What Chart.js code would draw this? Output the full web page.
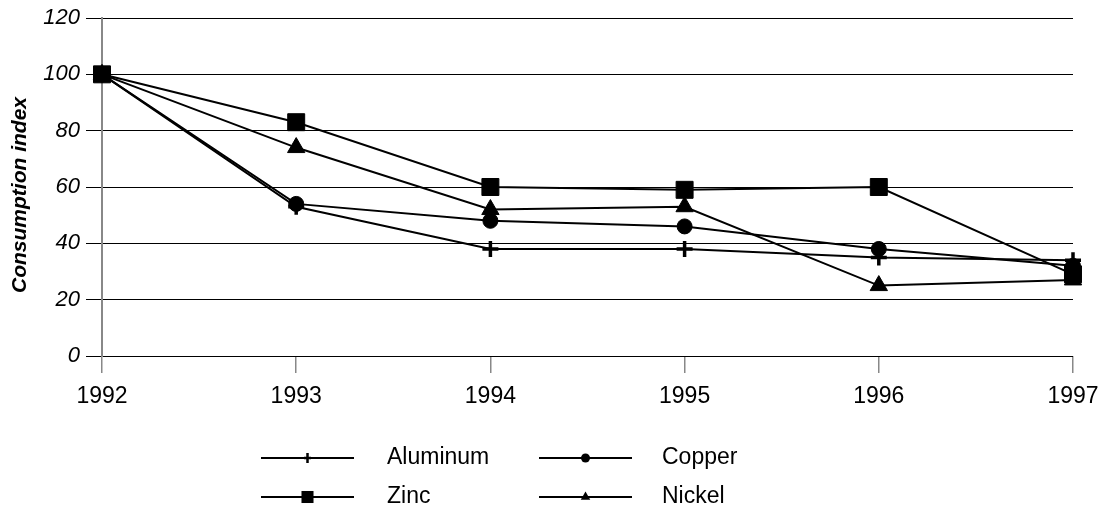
<!DOCTYPE html>
<html>
<head>
<meta charset="utf-8">
<script src="https://cdn.jsdelivr.net/npm/chart.js@4.4.1/dist/chart.umd.min.js"></script>
<style>
  html, body { margin: 0; padding: 0; background: #fff; }
  #wrap { position: relative; width: 1106px; height: 513px; }
</style>
</head>
<body>
<div id="wrap"><canvas id="c" width="1106" height="513"></canvas></div>
<script>
// Metal consumption index, 1992 = 100
const years = ['1992', '1993', '1994', '1995', '1996', '1997'];
const aluminum = [100, 53, 38, 38, 35, 34];
const copper   = [100, 54, 48, 46, 38, 32];
const zinc     = [100, 83, 60, 59, 60, 29];
const nickel   = [100, 74, 52, 53, 25, 27];
const yTicks   = [0, 20, 40, 60, 80, 100, 120];
const yTitle   = 'Consumption index';

const FONT = "'Liberation Sans', Arial, sans-serif";

// Legend entries: name, marker style, marker radius, grid cell
const legendItems = [
  { label: 'Aluminum', style: 'cross',    r: 5,   col: 0, row: 0 },
  { label: 'Copper',   style: 'circle',   r: 4.5, col: 1, row: 0 },
  { label: 'Zinc',     style: 'rect',     r: 8.5, col: 0, row: 1 },
  { label: 'Nickel',   style: 'triangle', r: 5.5, col: 1, row: 1 }
];

function drawMarker(ctx, style, x, y, r) {
  ctx.save();
  ctx.fillStyle = '#000';
  ctx.strokeStyle = '#000';
  ctx.beginPath();
  if (style === 'circle') {
    ctx.arc(x, y, r, 0, Math.PI * 2);
    ctx.fill();
  } else if (style === 'rect') {
    const s = r * Math.SQRT1_2;
    ctx.fillRect(x - s, y - s, 2 * s, 2 * s);
  } else if (style === 'triangle') {
    ctx.moveTo(x, y - r);
    ctx.lineTo(x + r * 0.866, y + r * 0.5);
    ctx.lineTo(x - r * 0.866, y + r * 0.5);
    ctx.closePath();
    ctx.fill();
  } else if (style === 'cross') {
    ctx.lineWidth = 2.5;
    ctx.moveTo(x - 3.5, y); ctx.lineTo(x + 3.5, y);
    ctx.moveTo(x, y - r); ctx.lineTo(x, y + r);
    ctx.stroke();
  }
  ctx.restore();
}

// Two-column legend with a line sample and marker, plus the rotated y title
const legendPlugin = {
  id: 'metalLegend',
  afterDraw(chart) {
    const ctx = chart.ctx;
    const colX = [261, 539];
    const lineLen = 93;
    const textX = [387, 662];
    const rowY = [458, 497];
    legendItems.forEach(it => {
      const x0 = colX[it.col];
      const y = rowY[it.row];
      ctx.save();
      ctx.strokeStyle = '#000';
      ctx.lineWidth = 2;
      ctx.beginPath();
      ctx.moveTo(x0, y);
      ctx.lineTo(x0 + lineLen, y);
      ctx.stroke();
      ctx.restore();
      drawMarker(ctx, it.style, x0 + lineLen / 2, y, it.r);
      ctx.save();
      ctx.fillStyle = '#000';
      ctx.font = '23px ' + FONT;
      ctx.textBaseline = 'middle';
      ctx.textAlign = 'left';
      ctx.fillText(it.label, textX[it.col], y);
      ctx.restore();
    });

    ctx.save();
    ctx.translate(20, 195);
    ctx.rotate(-Math.PI / 2);
    ctx.fillStyle = '#000';
    ctx.font = 'italic bold 21px ' + FONT;
    ctx.textAlign = 'center';
    ctx.textBaseline = 'middle';
    ctx.fillText(yTitle, 0, 0);
    ctx.restore();
  }
};

function series(label, data, style, radius, bw) {
  return {
    label, data,
    borderColor: '#000',
    borderWidth: 2,
    backgroundColor: '#000',
    pointStyle: style,
    pointRadius: radius,
    pointHoverRadius: radius,
    pointBackgroundColor: '#000',
    pointBorderColor: '#000',
    pointBorderWidth: bw,
    tension: 0,
    fill: false
  };
}

new Chart(document.getElementById('c'), {
  type: 'line',
  data: {
    labels: years,
    datasets: [
      series('Aluminum', aluminum, 'cross', 8, 3.5),
      series('Copper', copper, 'circle', 7.5, 1),
      series('Nickel', nickel, 'triangle', 10, 1),
      series('Zinc', zinc, 'rect', 12, 1)
    ]
  },
  options: {
    responsive: false,
    animation: false,
    events: [],
    layout: { padding: { top: 18, right: 33, left: 0, bottom: 0 } },
    plugins: {
      legend: { display: false },
      tooltip: { enabled: false }
    },
    scales: {
      x: {
        type: 'category',
        offset: false,
        afterFit(scale) {
          scale.height = 157;
          scale.paddingLeft = 0;
          scale.paddingRight = 0;
        },
        grid: {
          display: true,
          drawOnChartArea: false,
          drawTicks: true,
          tickLength: 17,
          lineWidth: 1.5,
          color: '#888'
        },
        border: { display: false },
        ticks: {
          color: '#000',
          padding: 10,
          maxRotation: 0,
          autoSkip: false,
          font: { family: FONT, size: 23 }
        }
      },
      y: {
        min: 0,
        max: 120,
        afterFit(scale) {
          scale.width = 102;
          scale.paddingTop = 0;
          scale.paddingBottom = 0;
        },
        afterBuildTicks(scale) { scale.ticks = yTicks.map(v => ({ value: v })); },
        grid: {
          color: '#000',
          lineWidth: 1,
          tickLength: 16,
          drawTicks: true
        },
        border: { display: true, color: '#888', width: 2 },
        ticks: {
          color: '#000',
          padding: 6,
          font: { family: FONT, size: 22, style: 'italic' }
        },
        title: { display: false }
      }
    }
  },
  plugins: [legendPlugin]
});
</script>
</body>
</html>
